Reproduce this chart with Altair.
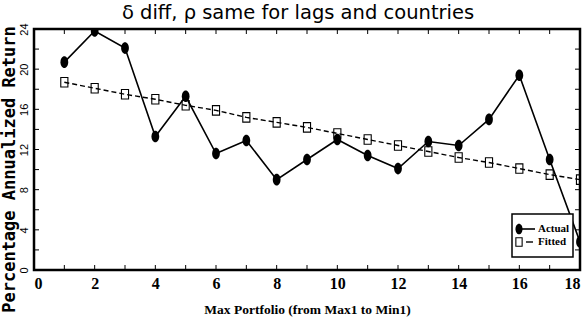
import altair as alt
import pandas as pd

# ---- data ----
portfolio = list(range(1, 19))
actual = [20.7, 23.8, 22.1, 13.3, 17.3, 11.6, 12.9, 9.0, 11.0, 13.0,
          11.4, 10.1, 12.8, 12.4, 15.0, 19.4, 11.0, 2.8]
fitted = [18.7, 18.1, 17.5, 17.0, 16.4, 15.9, 15.2, 14.7, 14.2, 13.6,
          13.0, 12.4, 11.8, 11.2, 10.7, 10.1, 9.5, 9.0]
x_ticks = list(range(0, 19))
y_ticks = list(range(0, 25, 2))
x_labels = list(range(0, 19, 2))
y_labels = list(range(0, 25, 4))
legend_labels = ["Actual", "Fitted"]
title_text = ["δ diff, ρ same for lags and countries"]

W, H = 546, 241
SERIF = "Liberation Serif, serif"

df_a = pd.DataFrame({"x": portfolio, "y": actual})
df_f = pd.DataFrame({"x": portfolio, "y": fitted})
df_xt = pd.DataFrame({"t": x_ticks})
df_yt = pd.DataFrame({"t": y_ticks})

xs = alt.Scale(domain=[0, 18], nice=False)
ys = alt.Scale(domain=[0, 24], nice=False)

X = alt.X("x:Q", scale=xs, axis=alt.Axis(
    values=x_labels, title="Max Portfolio (from Max1 to Min1)", grid=False,
    ticks=False, tickSize=0, domain=False, labelPadding=5,
    labelFont=SERIF, labelFontSize=16, labelFontWeight="bold", labelColor="black",
    titleFont=SERIF, titleFontSize=13.5, titleFontWeight="bold", titleColor="black",
    titleY=32, titleBaseline="top"))
Y = alt.Y("y:Q", scale=ys, axis=alt.Axis(
    values=y_labels, title="Percentage Annualized Return", grid=False,
    ticks=False, tickSize=0, domain=False, labelPadding=5,
    labelAngle=270, labelAlign="center", labelBaseline="bottom",
    labelFont="Liberation Sans, sans-serif", labelFontSize=11, labelColor="black",
    titleFont="DejaVu Sans Mono, monospace", titleFontSize=17, titleFontWeight="bold",
    titleColor="black", titleAngle=270, titleAlign="center", titleBaseline="middle",
    titleX=-25, titleY=140))

ellipse = "M0,-1.5A1,1.5 0 1,1 0,1.5A1,1.5 0 1,1 0,-1.5Z"
rect = "M-0.75,-1H0.75V1H-0.75Z"

fit_line = alt.Chart(df_f).mark_line(color="black", strokeWidth=1.4,
                                      strokeDash=[5, 3], clip=True).encode(x=X, y=Y)
fit_pts = alt.Chart(df_f).mark_point(shape=rect, size=90, color="black", filled=False,
                                     strokeWidth=1.1, opacity=1, clip=True).encode(x=X, y=Y)
act_line = alt.Chart(df_a).mark_line(color="black", strokeWidth=1.6, clip=True).encode(x=X, y=Y)
act_pts = alt.Chart(df_a).mark_point(shape=ellipse, size=60, color="black", filled=True,
                                     opacity=1, clip=True).encode(x=X, y=Y)

# inward ticks on all four sides
tx = alt.X("t:Q", scale=xs)
ty = alt.Y("t:Q", scale=ys)
tick_b = alt.Chart(df_xt).mark_rule(color="black", strokeWidth=1).encode(
    x=tx, y=alt.value(H), y2=alt.value(H - 5))
tick_t = alt.Chart(df_xt).mark_rule(color="black", strokeWidth=1).encode(
    x=tx, y=alt.value(0), y2=alt.value(5))
tick_l = alt.Chart(df_yt).mark_rule(color="black", strokeWidth=1).encode(
    y=ty, x=alt.value(0), x2=alt.value(5))
tick_r = alt.Chart(df_yt).mark_rule(color="black", strokeWidth=1).encode(
    y=ty, x=alt.value(W), x2=alt.value(W - 5))

# legend (drawn inside the plot, bottom-right)
one = df_a.head(1)
leg_box = alt.Chart(one).mark_rect(fill="white", stroke="black", strokeWidth=1.5).encode(
    x=alt.value(478), x2=alt.value(539), y=alt.value(185), y2=alt.value(228))
leg_l1 = alt.Chart(one).mark_rule(color="black", strokeWidth=1.6).encode(
    x=alt.value(485), x2=alt.value(501), y=alt.value(200))
leg_p1 = alt.Chart(one).mark_point(shape=ellipse, size=50, color="black",
                                   filled=True, opacity=1).encode(
    x=alt.value(485), y=alt.value(200))
leg_l2 = alt.Chart(one).mark_rule(color="black", strokeWidth=1.4).encode(
    x=alt.value(492), x2=alt.value(499), y=alt.value(213))
leg_p2 = alt.Chart(one).mark_point(shape=rect, size=70, color="black",
                                   filled=False, strokeWidth=1.1, opacity=1).encode(
    x=alt.value(485), y=alt.value(213))
leg_t = alt.Chart(pd.DataFrame({"lab": legend_labels, "py": [200, 213]})).mark_text(
    align="left", baseline="middle", font=SERIF, fontSize=11, fontWeight="bold",
    color="black").encode(x=alt.value(504), y=alt.Y("py:Q", scale=None), text="lab:N")

# title drawn as a text mark above the plot
title = alt.Chart(pd.DataFrame({"t": title_text})).mark_text(
    align="center", baseline="alphabetic", font="DejaVu Sans, sans-serif",
    fontSize=19.5, color="black").encode(
    x=alt.value(W / 2 - 9), y=alt.value(-10.5), text="t:N")

chart = alt.layer(
    fit_line, fit_pts, act_line, act_pts,
    tick_b, tick_t, tick_l, tick_r,
    leg_box, leg_l1, leg_p1, leg_l2, leg_p2, leg_t, title
).properties(
    width=W, height=H,
    autosize=alt.AutoSizeParams(type="none"),
    padding={"left": 34, "top": 29, "right": 4, "bottom": 55},
    background="white",
).configure_view(stroke="black", strokeWidth=2.5)

chart.save("out.html", embed_options={"renderer": "svg", "actions": False})
